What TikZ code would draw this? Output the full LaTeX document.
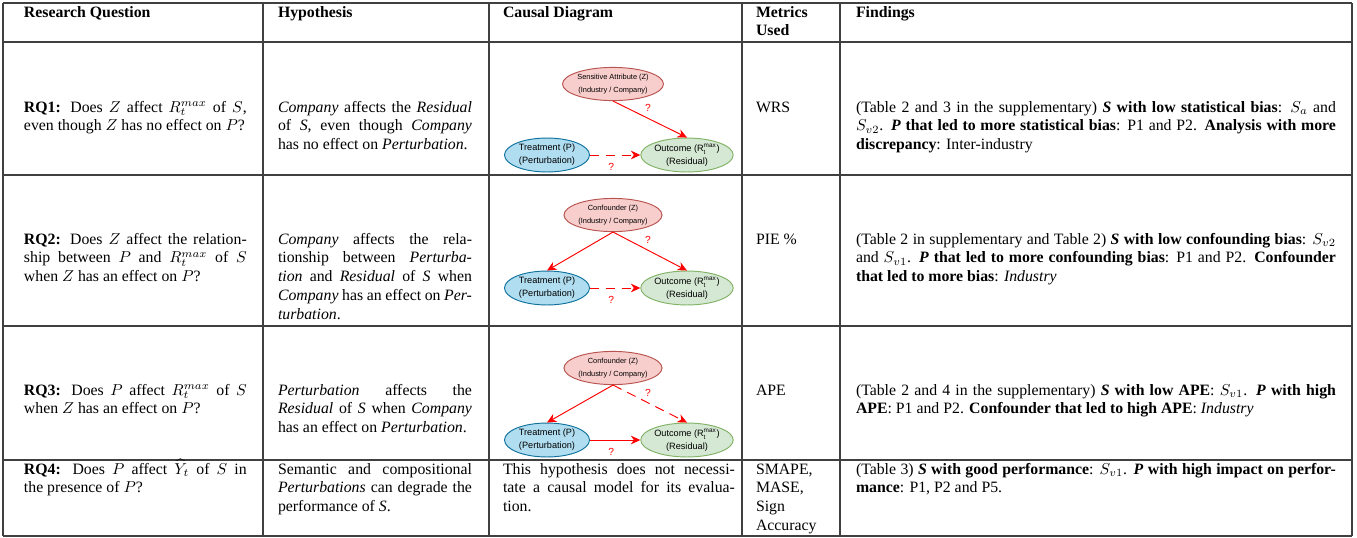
\documentclass[tikz,border=0pt]{standalone}
\usepackage{amsmath}
\usepackage[no-math]{fontspec}
\setmainfont{Liberation Serif}
\newfontfamily\diafont{Liberation Sans}
\usetikzlibrary{shapes.geometric,arrows.meta,calc}
\definecolor{zfill}{HTML}{F8CECC}
\definecolor{zdraw}{HTML}{B85450}
\definecolor{pfill}{HTML}{B1DDF0}
\definecolor{pdraw}{HTML}{10739E}
\definecolor{ofill}{HTML}{D5E8D4}
\definecolor{odraw}{HTML}{82B366}
\definecolor{arrred}{HTML}{FF0000}
\newcommand{\jline}[1]{\hbox to \linewidth{#1}}
\newcommand{\lline}[1]{\hbox{#1}}
\tikzset{
  gridline/.style={draw=black!75, line width=0.8pt},
  cell/.style={anchor=base west, inner sep=0pt, outer sep=0pt, font=\fontsize{10}{12}\selectfont},
  hdr/.style={cell, font=\fontsize{10}{12}\selectfont\bfseries},
  ell/.style={ellipse, inner sep=0pt, align=center, line width=0.6pt},
  zell/.style={ell, draw=zdraw, fill=zfill, minimum width=54.4pt, minimum height=21pt, font=\diafont\fontsize{4.7}{8.2}\selectfont},
  pell/.style={ell, draw=pdraw, fill=pfill, minimum width=53.8pt, minimum height=21.5pt, font=\diafont\fontsize{5.8}{8.2}\selectfont},
  oell/.style={ell, draw=odraw, fill=ofill, minimum width=53.8pt, minimum height=21.5pt, font=\diafont\fontsize{5.8}{8.2}\selectfont},
  arr/.style={draw=arrred, line width=0.6pt, -{Stealth[length=6pt,width=5.5pt]}},
  darr/.style={arr, dash pattern=on 6pt off 4pt},
  qm/.style={text=arrred, font=\diafont\fontsize{6.5}{7}\selectfont, inner sep=0pt},
}
\begin{document}
\begin{tikzpicture}[x=0.633pt, y=-0.633pt]
\useasboundingbox (0,0) rectangle (1357,538);
\fill[white] (0,0) rectangle (1357,538);
% table grid
\foreach \yy in {3,42,175,326,460,536}{\draw[gridline] (3,\yy) -- (1352,\yy);}
\foreach \xx in {3,263,489,742,840,1352}{\draw[gridline] (\xx,3) -- (\xx,536);}
% header
\node[hdr] (h1) at (24,17) {Research Question};
\node[hdr] (h2) at (278,17) {Hypothesis};
\node[hdr] (h3) at (503,17) {Causal Diagram};
\node[hdr] (h4) at (756,17) {\parbox[t]{50pt}{\lline{Metrics}\lline{Used}}};
\node[hdr] (h5) at (856,17) {Findings};
% ---------- Row 1
\node[cell] (r1c1) at (24,112) {\parbox[t]{141pt}{%
\jline{\textbf{RQ1:} Does $Z$ affect $R_t^{max}$ of $S$,}%
\lline{even though $Z$ has no effect on $P$?}}};
\node[cell] (r1c2) at (278,112) {\parbox[t]{122.8pt}{%
\jline{\textit{Company} affects the \textit{Residual}}%
\jline{of \textit{S}, even though \textit{Company}}%
\lline{has no effect on \textit{Perturbation}.}}};
\node[cell] (r1c4) at (756,112) {WRS};
\node[cell] (r1c5) at (856,112) {\parbox[t]{303.8pt}{%
\jline{(Table 2 and 3 in the supplementary) \textbf{\textit{S} with low statistical bias}: $S_a$ and}%
\jline{$S_{v2}$. \textbf{\textit{P} that led to more statistical bias}: P1 and P2. \textbf{Analysis with more}}%
\lline{\textbf{discrepancy}: Inter-industry}}};
% diagram 1
\node[zell] (z1) at (613,84) {Sensitive Attribute (Z)\\(Industry / Company)};
\node[pell] (p1) at (547,155) {Treatment (P)\\(Perturbation)};
\node[oell] (o1) at (687,155) {Outcome (R$^{\text{max}}_{\text{t}}$)\\(Residual)};
\draw[arr] (z1.south) -- (o1.north);
\draw[darr] (p1.east) -- (o1.west);
\node[qm] (q1a) at ($(z1.south)!0.5!(o1.north)+(-2,-11)$) {?};
\node[qm] (q1b) at ($(p1.east)!0.5!(o1.west)+(-4,12)$) {?};
% ---------- Row 2
\node[cell] (r2c1) at (24,244) {\parbox[t]{141pt}{%
\jline{\textbf{RQ2:} Does $Z$ affect the relation-}%
\jline{ship between $P$ and $R_t^{max}$ of $S$}%
\lline{when $Z$ has an effect on $P$?}}};
\node[cell] (r2c2) at (278,244) {\parbox[t]{122.8pt}{%
\jline{\textit{Company} affects the rela-}%
\jline{tionship between \textit{Perturba-}}%
\jline{\textit{tion} and \textit{Residual} of \textit{S} when}%
\jline{\textit{Company} has an effect on \textit{Per-}}%
\lline{\textit{turbation}.}}};
\node[cell] (r2c4) at (756,244) {PIE \%};
\node[cell] (r2c5) at (856,244) {\parbox[t]{303.8pt}{%
\jline{(Table 2 in supplementary and Table 2) \textbf{\textit{S} with low confounding bias}: $S_{v2}$}%
\jline{and $S_{v1}$. \textbf{\textit{P} that led to more confounding bias}: P1 and P2. \textbf{Confounder}}%
\lline{\textbf{that led to more bias}: \textit{Industry}}}};
% diagram 2
\node[zell] (z2) at (613,215) {Confounder (Z)\\(Industry / Company)};
\node[pell] (p2) at (547,288) {Treatment (P)\\(Perturbation)};
\node[oell] (o2) at (687,288) {Outcome (R$^{\text{max}}_{\text{t}}$)\\(Residual)};
\draw[arr] (z2.south) -- (p2.north);
\draw[arr] (z2.south) -- (o2.north);
\draw[darr] (p2.east) -- (o2.west);
\node[qm] (q2a) at ($(z2.south)!0.5!(o2.north)+(-2,-11)$) {?};
\node[qm] (q2b) at ($(p2.east)!0.5!(o2.west)+(-4,12)$) {?};
% ---------- Row 3
\node[cell] (r3c1) at (24,395) {\parbox[t]{141pt}{%
\jline{\textbf{RQ3:} Does $P$ affect $R_t^{max}$ of $S$}%
\lline{when $Z$ has an effect on $P$?}}};
\node[cell] (r3c2) at (278,395) {\parbox[t]{122.8pt}{%
\jline{\textit{Perturbation} affects the}%
\jline{\textit{Residual} of \textit{S} when \textit{Company}}%
\lline{has an effect on \textit{Perturbation}.}}};
\node[cell] (r3c4) at (756,395) {APE};
\node[cell] (r3c5) at (856,395) {\parbox[t]{303.8pt}{%
\jline{(Table 2 and 4 in the supplementary) \textbf{\textit{S} with low APE}: $S_{v1}$. \textbf{\textit{P} with high}}%
\lline{\textbf{APE}: P1 and P2. \textbf{Confounder that led to high APE}: \textit{Industry}}}};
% diagram 3
\node[zell] (z3) at (613,368) {Confounder (Z)\\(Industry / Company)};
\node[pell] (p3) at (547,440) {Treatment (P)\\(Perturbation)};
\node[oell] (o3) at (687,440) {Outcome (R$^{\text{max}}_{\text{t}}$)\\(Residual)};
\draw[arr] (z3.south) -- (p3.north);
\draw[darr] (z3.south) -- (o3.north);
\draw[arr] (p3.east) -- (o3.west);
\node[qm] (q3a) at ($(z3.south)!0.5!(o3.north)+(-2,-11)$) {?};
\node[qm] (q3b) at ($(p3.east)!0.5!(o3.west)+(-4,12)$) {?};
% ---------- Row 4
\node[cell] (r4c1) at (24,474) {\parbox[t]{141pt}{%
\jline{\textbf{RQ4:} Does $P$ affect $\widehat{Y}_t$ of $S$ in}%
\lline{the presence of $P$?}}};
\node[cell] (r4c2) at (278,474) {\parbox[t]{122.8pt}{%
\jline{Semantic and compositional}%
\jline{\textit{Perturbations} can degrade the}%
\lline{performance of \textit{S}.}}};
\node[cell] (r4c3) at (503,474) {\parbox[t]{146.8pt}{%
\jline{This hypothesis does not necessi-}%
\jline{tate a causal model for its evalua-}%
\lline{tion.}}};
\node[cell] (r4c4) at (756,474) {\parbox[t]{50pt}{%
\lline{SMAPE,}\lline{MASE,}\lline{Sign}\lline{Accuracy}}};
\node[cell] (r4c5) at (856,474) {\parbox[t]{303.8pt}{%
\jline{(Table 3) \textbf{\textit{S} with good performance}: $S_{v1}$. \textbf{\textit{P} with high impact on perfor-}}%
\lline{\textbf{mance}: P1, P2 and P5.}}};
\end{tikzpicture}
\end{document}
